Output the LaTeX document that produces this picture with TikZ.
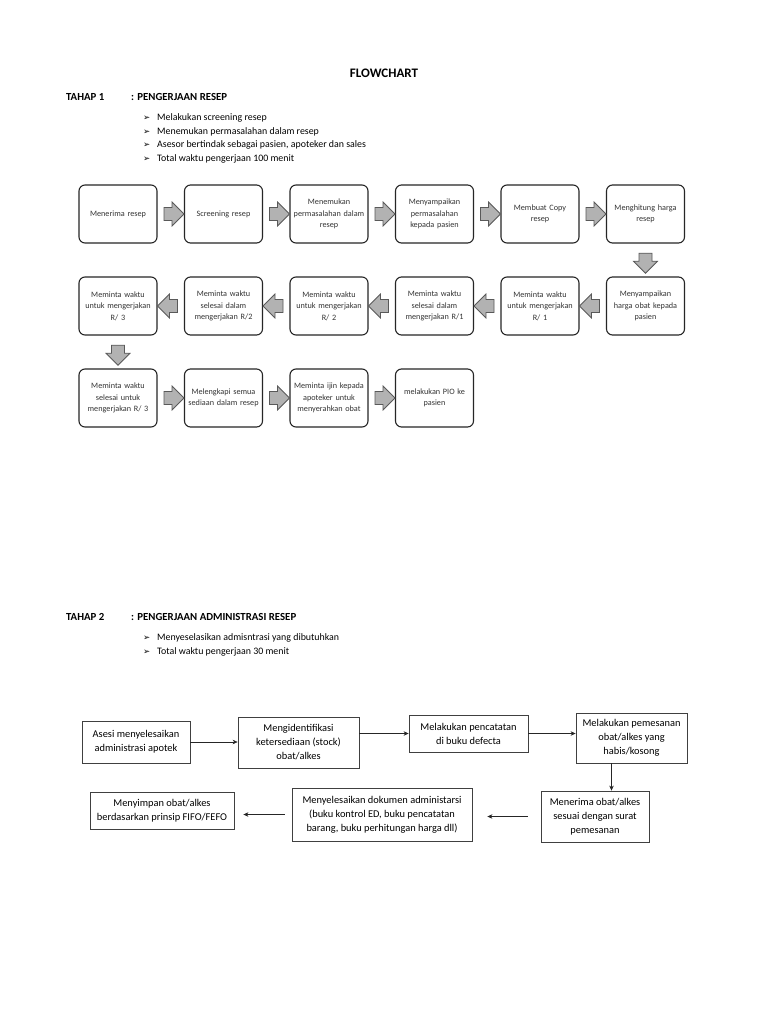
\documentclass[tikz,border=0pt]{standalone}
\usepackage{fontspec}
\setmainfont{Carlito}
\newfontfamily\symfont{DejaVu Sans}
\usetikzlibrary{shapes.arrows,calc,arrows.meta}
\begin{document}
\begin{tikzpicture}[x=1pt,y=-1pt,
  rbox/.style={draw=black!85, line width=1.1pt, rounded corners=6pt, minimum width=78pt, minimum height=58pt, text width=74pt, inner sep=0pt, align=center, font=\fontsize{8.2}{11.5}\selectfont, text=black!80},
  sbox/.style={draw=black!75, line width=0.8pt, align=center, font=\fontsize{10.4}{14}\selectfont, inner sep=0pt},
  barr/.style={single arrow, draw=black!65, fill=black!30, line width=0.8pt, minimum height=20pt, minimum width=24pt, inner sep=5.5pt, single arrow head extend=5pt},
  larr/.style={-{Stealth[length=5pt,width=4.5pt]}, line width=0.6pt, draw=black!85},
  hdr/.style={anchor=base west, inner sep=0pt, font=\fontsize{10.8}{12}\selectfont\bfseries},
  bul/.style={anchor=base west, inner sep=0pt, font=\fontsize{9.9}{12}\selectfont},
  bsym/.style={anchor=base west, inner sep=0pt, font=\symfont\fontsize{8.5}{10}\selectfont}
]
\useasboundingbox[fill=white] (0,0) rectangle (768,1024);

% Header
\node[anchor=base, inner sep=0pt, font=\fontsize{13}{14}\selectfont\bfseries] (title) at (384,78) {FLOWCHART};
\node[hdr] (t1) at (66,101) {TAHAP 1};
\node[hdr] (t1b) at (131,101) {: PENGERJAAN RESEP};
\foreach \yy/\tt [count=\i] in {121/Melakukan screening resep, 135/Menemukan permasalahan dalam resep, 148/{Asesor bertindak sebagai pasien, apoteker dan sales}, 162/Total waktu pengerjaan 100 menit}{
  \node[bsym] (b1s\i) at (143,\yy) {➢};
  \node[bul] (b1t\i) at (157,\yy) {\tt};
}

% Row 1
\node[rbox] (r1a) at (118,214) {Menerima resep};
\node[rbox] (r1b) at (223.5,214) {Screening resep};
\node[rbox] (r1c) at (329,214) {Menemukan\\permasalahan dalam\\resep};
\node[rbox] (r1d) at (434.5,214) {Menyampaikan\\permasalahan\\kepada pasien};
\node[rbox] (r1e) at (540,214) {Membuat Copy\\resep};
\node[rbox] (r1f) at (645.5,214) {Menghitung harga\\resep};
% Row 2
\node[rbox] (r2f) at (645.5,306) {Menyampaikan\\harga obat kepada\\pasien};
\node[rbox] (r2e) at (540,306) {Meminta waktu\\untuk mengerjakan\\R/ 1};
\node[rbox] (r2d) at (434.5,306) {Meminta waktu\\selesai dalam\\mengerjakan R/1};
\node[rbox] (r2c) at (329,306) {Meminta waktu\\untuk mengerjakan\\R/ 2};
\node[rbox] (r2b) at (223.5,306) {Meminta waktu\\selesai dalam\\mengerjakan R/2};
\node[rbox] (r2a) at (118,306) {Meminta waktu\\untuk mengerjakan\\R/ 3};
% Row 3
\node[rbox] (r3a) at (118,398) {Meminta waktu\\selesai untuk\\mengerjakan R/ 3};
\node[rbox] (r3b) at (223.5,398) {Melengkapi semua\\sediaan dalam resep};
\node[rbox] (r3c) at (329,398) {Meminta ijin kepada\\apoteker untuk\\menyerahkan obat};
\node[rbox] (r3d) at (434.5,398) {melakukan PIO ke\\pasien};

% Block arrows
\node[barr] (a1) at ($(r1a.east)!0.5!(r1b.west)$) {};
\node[barr] (a2) at ($(r1b.east)!0.5!(r1c.west)$) {};
\node[barr] (a3) at ($(r1c.east)!0.5!(r1d.west)$) {};
\node[barr] (a4) at ($(r1d.east)!0.5!(r1e.west)$) {};
\node[barr] (a5) at ($(r1e.east)!0.5!(r1f.west)$) {};
\node[barr, shape border rotate=270] (a6) at ($(r1f.south)!0.5!(r2f.north)$) {};
\node[barr, shape border rotate=180] (a7) at ($(r2f.west)!0.5!(r2e.east)$) {};
\node[barr, shape border rotate=180] (a8) at ($(r2e.west)!0.5!(r2d.east)$) {};
\node[barr, shape border rotate=180] (a9) at ($(r2d.west)!0.5!(r2c.east)$) {};
\node[barr, shape border rotate=180] (a10) at ($(r2c.west)!0.5!(r2b.east)$) {};
\node[barr, shape border rotate=180] (a11) at ($(r2b.west)!0.5!(r2a.east)$) {};
\node[barr, shape border rotate=270] (a12) at ($(r2a.south)!0.5!(r3a.north)$) {};
\node[barr] (a13) at ($(r3a.east)!0.5!(r3b.west)$) {};
\node[barr] (a14) at ($(r3b.east)!0.5!(r3c.west)$) {};
\node[barr] (a15) at ($(r3c.east)!0.5!(r3d.west)$) {};

% Tahap 2 header
\node[hdr] (t2) at (66,620) {TAHAP 2};
\node[hdr] (t2b) at (131,620) {: PENGERJAAN ADMINISTRASI RESEP};
\foreach \yy/\tt [count=\i] in {640/Menyeselasikan admisntrasi yang dibutuhkan, 654/Total waktu pengerjaan 30 menit}{
  \node[bsym] (b2s\i) at (143,\yy) {➢};
  \node[bul] (b2t\i) at (157,\yy) {\tt};
}

% Tahap 2 boxes
\node[sbox, minimum width=108pt, minimum height=42pt] (A) at (136,742) {Asesi menyelesaikan\\administrasi apotek};
\node[sbox, minimum width=121pt, minimum height=51pt] (B) at (298.5,742.5) {Mengidentifikasi\\ketersediaan (stock)\\obat/alkes};
\node[sbox, minimum width=119pt, minimum height=37pt] (C) at (468.5,733.5) {Melakukan pencatatan\\di buku defecta};
\node[sbox, minimum width=111pt, minimum height=50pt] (D) at (631.5,738) {Melakukan pemesanan\\obat/alkes yang\\habis/kosong};
\node[sbox, minimum width=108pt, minimum height=51pt] (E) at (595,816.5) {Menerima obat/alkes\\sesuai dengan surat\\pemesanan};
\node[sbox, minimum width=180pt, minimum height=53pt] (F) at (382,814.5) {Menyelesaikan dokumen administarsi\\(buku kontrol ED, buku pencatatan\\barang, buku perhitungan harga dll)};
\node[sbox, minimum width=144pt, minimum height=37pt] (G) at (162,810.5) {Menyimpan obat/alkes\\berdasarkan prinsip FIFO/FEFO};

\draw[larr] (A.east) -- (A.east -| B.west);
\draw[larr] (B.east |- C.west) -- (C.west);
\draw[larr] (C.east) -- (C.east -| D.west);
\draw[larr] ([xshift=-20pt]D.south) -- ([xshift=-20pt]D.south |- E.north);
\draw[larr, shorten <=13pt, shorten >=15pt] (E.west) -- (E.west -| F.east);
\draw[larr, shorten <=7pt, shorten >=9pt] (F.west) -- (F.west -| G.east);
\end{tikzpicture}
\end{document}
